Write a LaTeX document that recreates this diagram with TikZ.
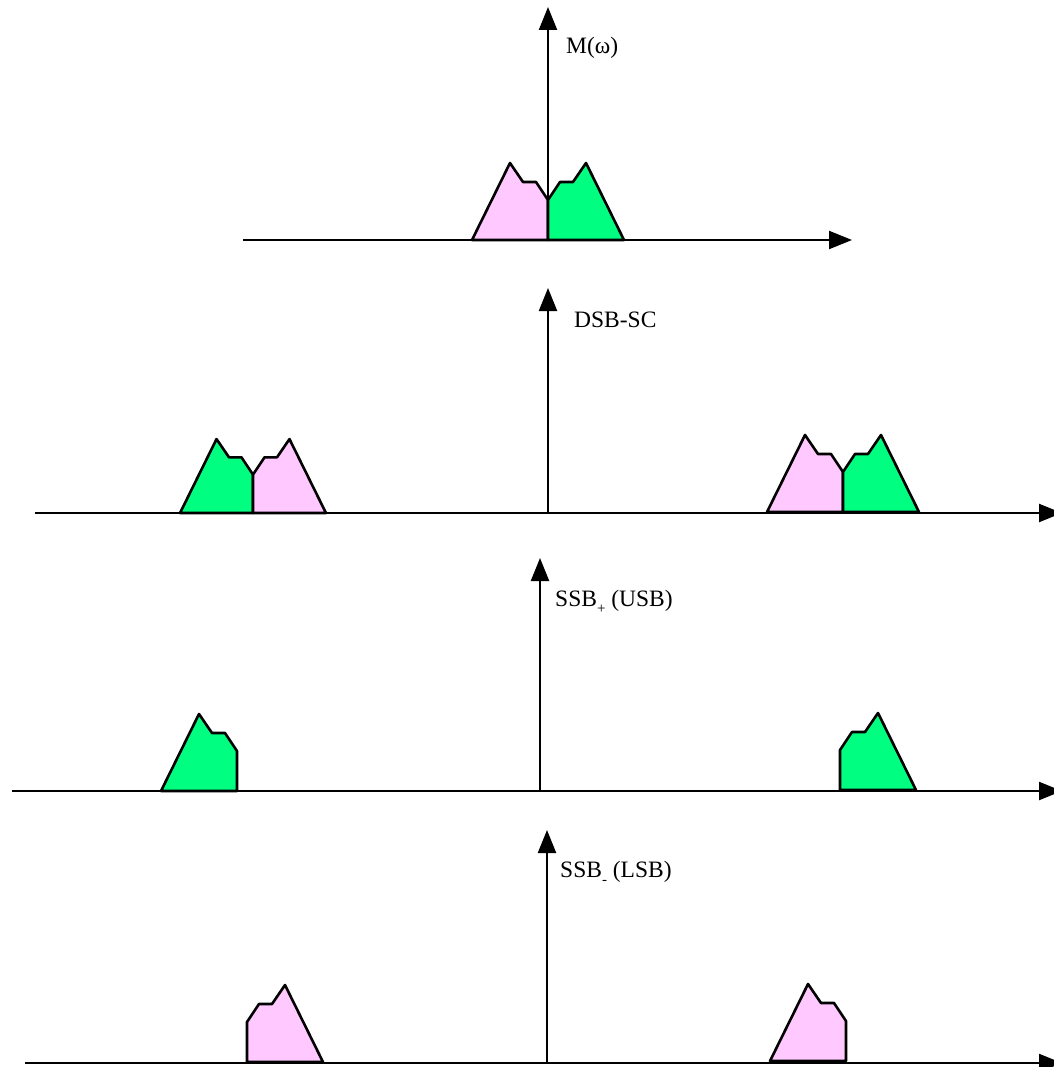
\documentclass[tikz,border=0pt]{standalone}
\usepackage{fontspec}
\setmainfont{Liberation Serif}
\usetikzlibrary{arrows.meta}
\definecolor{pinkc}{RGB}{255,200,255}
\definecolor{greenc}{RGB}{0,255,128}
\newcommand{\lowsub}[1]{\raisebox{-0.3em}{\fontsize{15pt}{15pt}\selectfont #1}}
\begin{document}
\begin{tikzpicture}[x=1pt,y=-1pt,
  axis/.style={line width=2.2pt,-{Triangle[length=23pt,width=18pt]}},
  lbl/.style={anchor=west,inner sep=0pt,font=\fontsize{23.5pt}{28pt}\selectfont},
  lobe/.style={line width=2.6pt,line join=round,draw=black},
  pics/lefthalf/.style={code={\filldraw[lobe,fill=#1] (-76,0) -- (-38,-77) -- (-25,-58) -- (-12,-58) -- (0,-40) -- (0,0) -- cycle;}},
  pics/righthalf/.style={code={\filldraw[lobe,fill=#1] (0,0) -- (0,-40) -- (12,-58) -- (25,-58) -- (38,-77) -- (76,0) -- cycle;}}
]
\useasboundingbox[fill=white] (0,0) rectangle (1053,1067);

% ---------- panel 1: M(omega)
\coordinate (h1s) at (243,240); \coordinate (h1e) at (852,240);
\coordinate (v1s) at (548,240); \coordinate (v1e) at (548,7);
\pic at (548,240) {lefthalf=pinkc};
\pic at (548,240) {righthalf=greenc};
\draw[axis] (h1s) -- (h1e);
\draw[axis] (v1s) -- (v1e);
\node[lbl] (l1) at (566,48) {M(ω)};

% ---------- panel 2: DSB-SC
\coordinate (h2s) at (35,513); \coordinate (h2e) at (1062,513);
\coordinate (v2s) at (548,513); \coordinate (v2e) at (548,288);
\pic[scale=0.96] at (253,513) {lefthalf=greenc};
\pic[scale=0.96] at (253,513) {righthalf=pinkc};
\pic at (843,512) {lefthalf=pinkc};
\pic at (843,512) {righthalf=greenc};
\draw[axis] (h2s) -- (h2e);
\draw[axis] (v2s) -- (v2e);
\node[lbl] (l2) at (574,320) {DSB-SC};

% ---------- panel 3: SSB+ (USB)
\coordinate (h3s) at (12,791); \coordinate (h3e) at (1062,791);
\coordinate (v3s) at (540,791); \coordinate (v3e) at (540,558);
\pic at (237,791) {lefthalf=greenc};
\pic at (840,790) {righthalf=greenc};
\draw[axis] (h3s) -- (h3e);
\draw[axis] (v3s) -- (v3e);
\node[lbl] (l3) at (555,602) {SSB\lowsub{+} (USB)};

% ---------- panel 4: SSB- (LSB)
\coordinate (h4s) at (25,1063); \coordinate (h4e) at (1062,1063);
\coordinate (v4s) at (547,1063); \coordinate (v4e) at (547,830);
\pic at (247,1062) {righthalf=pinkc};
\pic at (846,1061) {lefthalf=pinkc};
\draw[axis] (h4s) -- (h4e);
\draw[axis] (v4s) -- (v4e);
\node[lbl] (l4) at (560,873) {SSB\lowsub{-} (LSB)};
\end{tikzpicture}
\end{document}
